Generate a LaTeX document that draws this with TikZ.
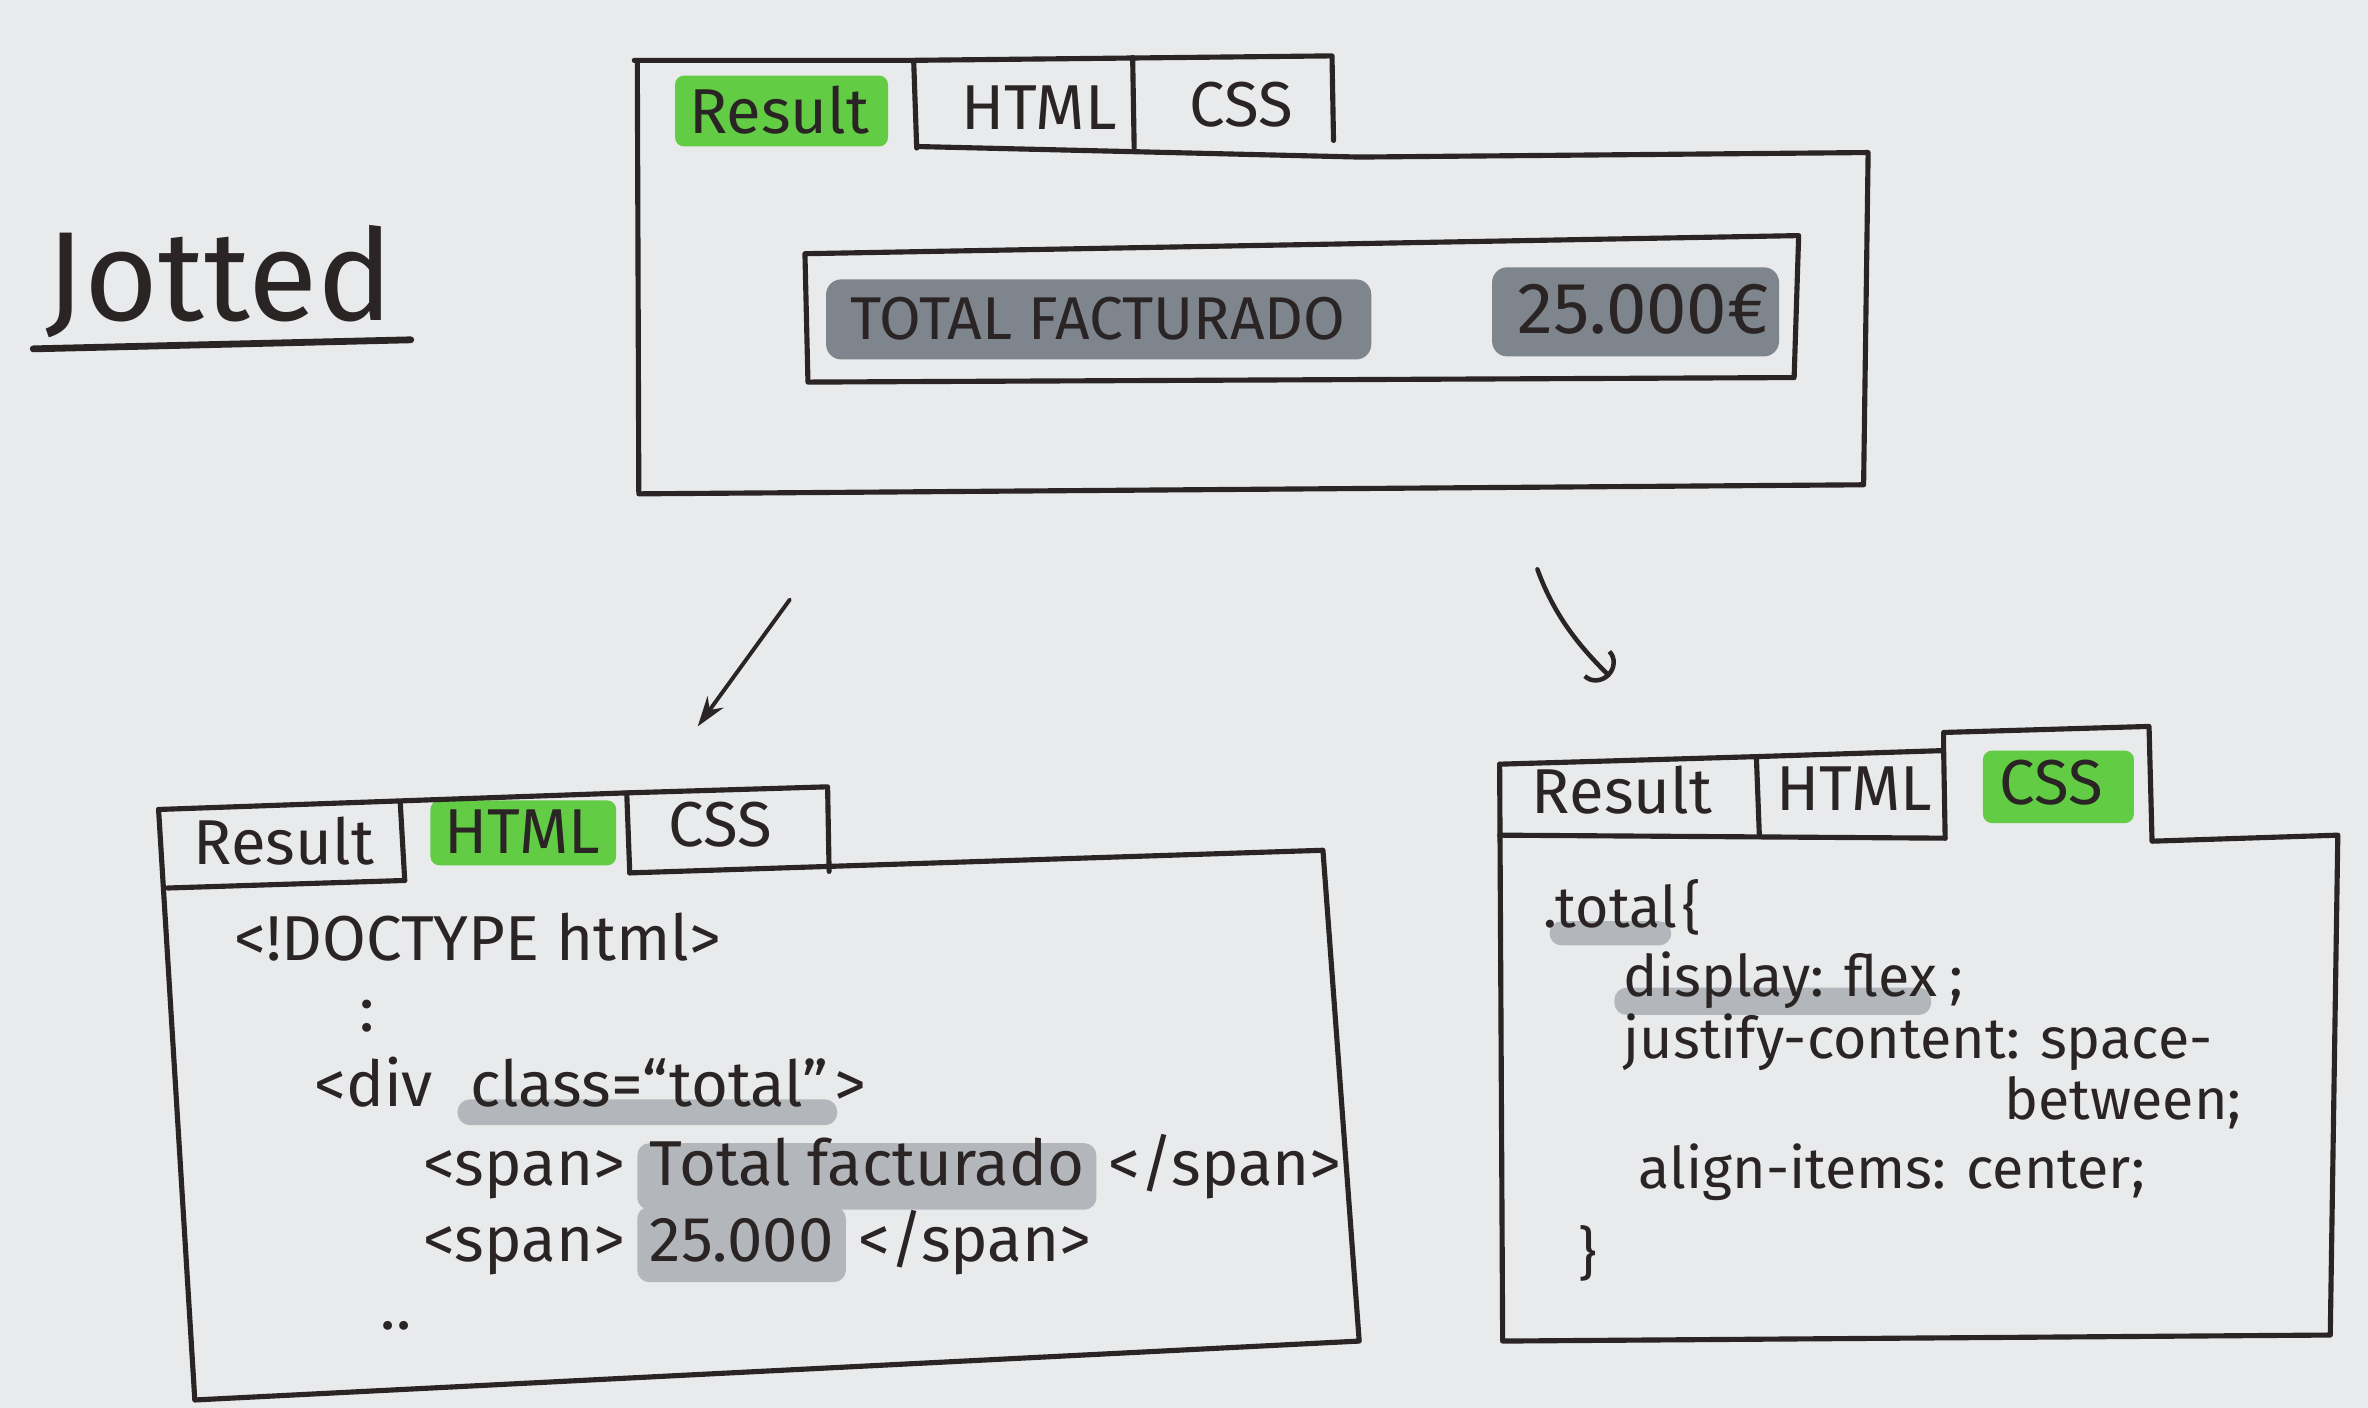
\documentclass[tikz,border=0pt]{standalone}
\usepackage{fontspec}
\setmainfont{Fira Sans}
\usetikzlibrary{arrows.meta,calc,backgrounds}
\definecolor{paper}{HTML}{E9EAEB}
\definecolor{ink}{HTML}{2A2424}
\definecolor{marker}{HTML}{62CC45}
\definecolor{hldark}{HTML}{7F858D}
\definecolor{hllight}{HTML}{B3B7BC}
\begin{document}
\begin{tikzpicture}[x=1pt,y=-1pt,
  pen/.style={draw=ink, line width=3.4pt, line cap=round, line join=round},
  arrowpen/.style={draw=ink, line width=2.6pt, line cap=round},
  tablbl/.style={font=\fontsize{42}{48}\selectfont, text=ink, inner sep=0pt},
  resultlbl/.style={font=\fontsize{40}{46}\selectfont, text=ink, inner sep=0pt},
  codeL/.style={font=\fontsize{42}{48}\selectfont, text=ink, inner sep=0pt, anchor=base west},
  codeR/.style={font=\fontsize{38}{44}\selectfont, text=ink, inner sep=0pt, anchor=base west},
  greenmark/.style={fill=marker, rounded corners=6pt},
  graymark/.style={fill=hllight, rounded corners=8pt}]
\begin{scope}[on background layer]
  \fill[paper] (0,0) rectangle (1568,932);
\end{scope}
\useasboundingbox (0,0) rectangle (1568,932);

% ---------- title ----------
\node[font=\fontsize{84}{90}\selectfont, text=ink, inner sep=0pt, anchor=base west] (title) at (30,212) {Jotted};
\draw[ink, line width=4.5pt, line cap=round] (22,231) -- (272,225);

% ---------- top window (Result) ----------
\fill[greenmark] (447,50) rectangle (588,97);
\draw[pen] (420,40) -- (600,40) -- (882,37) -- (883,93);
\draw[pen] (605,40) -- (607,98);
\draw[pen] (750,38) -- (751,98);
\draw[pen] (422,40) -- (423,327) -- (1234,321) -- (1237,101) -- (900,104) -- (607,97);
\node[tablbl] (topres) at (516,73) {Result};
\node[tablbl] (tophtml) at (688,71) {HTML};
\node[tablbl] (topcss) at (822,69) {CSS};
% inner result box
\draw[pen] (533,168) -- (1191,156) -- (1188,250) -- (535,253) -- cycle;
\fill[hldark, rounded corners=10pt] (547,185) rectangle (908,238);
\fill[hldark, rounded corners=10pt] (988,177) rectangle (1178,236);
\node[resultlbl] (totlbl) at (727,211) {TOTAL FACTURADO};
\node[font=\fontsize{48}{54}\selectfont, text=ink, inner sep=0pt] (totval) at (1088,205) {25.000€};

% ---------- arrows ----------
\coordinate (aLs) at (523,397);
\coordinate (aLe) at (462,481);
\coordinate (aRs) at (1018,377);
\coordinate (aRe) at (1066,448);
\draw[arrowpen, -{Stealth[length=20pt,width=13pt]}] (aLs) -- (aLe);
\draw[arrowpen, line width=3pt, -{Arc Barb[length=12pt,width=26pt,line width=3pt]}] (aRs) .. controls (1030,410) and (1048,430) .. (aRe);

% ---------- bottom-left window (HTML) ----------
\fill[greenmark] (285,530) rectangle (408,573);
\draw[pen] (105,536) -- (415,525) -- (548,521) -- (549,577);
\draw[pen] (265,531) -- (268,583);
\draw[pen] (111,588) -- (268,583);
\draw[pen] (415,525) -- (417,578);
\draw[pen] (105,536) -- (129,927) -- (900,888) -- (876,563) -- (417,578);
\node[tablbl] (blres) at (188,557) {Result};
\node[tablbl] (blhtml) at (346,551) {HTML};
\node[tablbl] (blcss) at (477,546) {CSS};

\node[codeL] (l1) at (155,636) {<!DOCTYPE html>};
\node[codeL] (l2) at (238,683) {:};
\node[codeL] (l3a) at (208,733) {<div};
\node[codeL] (l3b) at ($(l3a.base east)+(24,0)$) {class=“total”};
\node[codeL] (l3c) at ($(l3b.base east)+(4,0)$) {>};
\node[codeL] (l4a) at (280,785) {<span>};
\node[codeL] (l4b) at ($(l4a.base east)+(16,0)$) {Total facturado};
\node[codeL] (l4c) at ($(l4b.base east)+(16,0)$) {</span>};
\node[codeL] (l5a) at (280,835) {<span>};
\node[codeL] (l5b) at ($(l5a.base east)+(16,0)$) {25.000};
\node[codeL] (l5c) at ($(l5b.base east)+(16,0)$) {</span>};
\node[codeL] (l6) at (252,880) {..};

% ---------- bottom-right window (CSS) ----------
\fill[greenmark] (1313,497) rectangle (1413,545);
\draw[pen] (993,506) -- (1163,501) -- (1287,497) -- (1288,555);
\draw[pen] (1163,501) -- (1165,554);
\draw[pen] (993,553) -- (1288,555);
\draw[pen] (1287,497) -- (1287,485) -- (1423,481) -- (1425,557) -- (1548,553) -- (1543,884) -- (995,888) -- (993,506);
\node[tablbl] (brres) at (1074,523) {Result};
\node[tablbl] (brhtml) at (1228,522) {HTML};
\node[tablbl] (brcss) at (1358,518) {CSS};

\node[codeR] (c1a) at (1022,614) {.total};
\node[codeR] (c1b) at ($(c1a.base east)+(3,0)$) {\{};
\node[codeR] (c2a) at (1075,660) {display: flex};
\node[codeR] (c2b) at ($(c2a.base east)+(8,0)$) {;};
\node[codeR] (c3) at (1075,701) {justify-content: space-};
\node[codeR] (c4) at (1327,741) {between;};
\node[codeR] (c5) at (1085,787) {align-items: center;};
\node[codeR] (c6) at (1045,843) {\}};

% ---------- gray marker highlights (behind text) ----------
\begin{scope}[on background layer]
  \fill[graymark] ($(l3b.base west)+(-8,-5)$) rectangle ($(l3b.base east)+(6,12)$);
  \fill[graymark] ($(l4b.base west)+(-8,-28)$) rectangle ($(l4b.base east)+(8,16)$);
  \fill[graymark] ($(l5b.base west)+(-8,-36)$) rectangle ($(l5b.base east)+(8,14)$);
  \fill[graymark] ($(c1a.base west)+(4,-4)$) rectangle ($(c1a.base east)+(-4,12)$);
  \fill[graymark] ($(c2a.base west)+(-6,-6)$) rectangle ($(c2a.base east)+(-4,12)$);
\end{scope}
\end{tikzpicture}
\end{document}
